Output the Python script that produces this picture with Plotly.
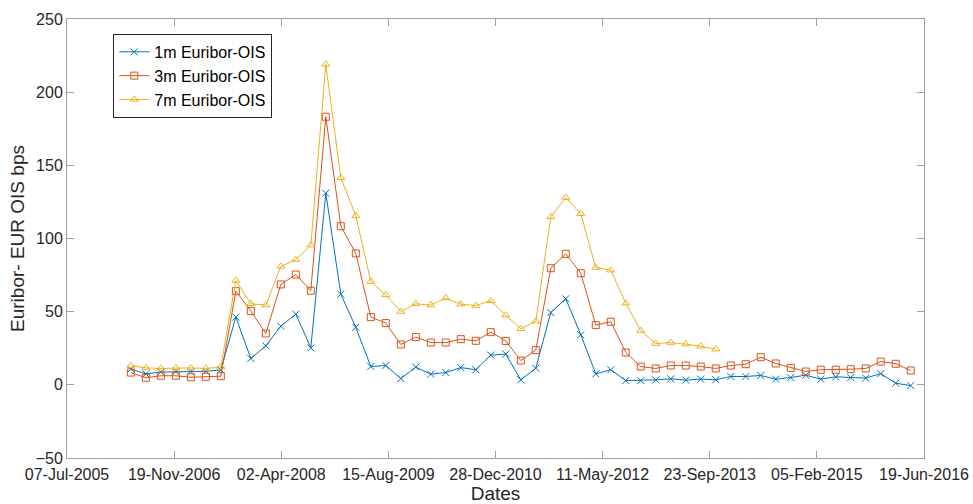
import plotly.graph_objects as go

dates = [
    "2006-05-01", "2006-07-10", "2006-09-18", "2006-11-27", "2007-02-05", "2007-04-16",
    "2007-06-25", "2007-09-03", "2007-11-12", "2008-01-21", "2008-03-31", "2008-06-09",
    "2008-08-18", "2008-10-27", "2009-01-05", "2009-03-16", "2009-05-25", "2009-08-03",
    "2009-10-12", "2009-12-21", "2010-03-01", "2010-05-10", "2010-07-19", "2010-09-27",
    "2010-12-06", "2011-02-14", "2011-04-25", "2011-07-04", "2011-09-12", "2011-11-21",
    "2012-01-30", "2012-04-09", "2012-06-18", "2012-08-27", "2012-11-05", "2013-01-14",
    "2013-03-25", "2013-06-03", "2013-08-12", "2013-10-21", "2013-12-30", "2014-03-10",
    "2014-05-19", "2014-07-28", "2014-10-06", "2014-12-15", "2015-02-23", "2015-05-04",
    "2015-07-13", "2015-09-21", "2015-11-30", "2016-02-08", "2016-04-18",
]

ois_1m = [
    10.7, 7.5, 8.7, 9.1, 9.1, 9.3, 10.2, 46.3, 18.0, 26.7, 40.1, 48.3, 25.3, 131.0,
    62.0, 39.3, 12.5, 13.2, 4.3, 12.1, 7.3, 8.4, 11.8, 10.3, 20.3, 21.0, 3.4, 11.4,
    49.4, 58.8, 34.2, 7.5, 10.3, 2.9, 2.9, 3.4, 4.1, 3.2, 3.9, 3.5, 5.7, 5.7, 6.4,
    3.9, 5.0, 6.6, 3.9, 5.5, 5.0, 4.6, 7.7, 1.1, -0.5,
]

ois_3m = [
    8.4, 4.8, 6.2, 6.2, 5.2, 5.5, 5.9, 64.0, 50.4, 35.1, 68.6, 75.4, 64.3, 183.2,
    108.4, 89.8, 46.3, 42.2, 27.6, 32.6, 28.9, 28.9, 31.2, 30.1, 36.0, 30.0, 16.6,
    23.7, 79.7, 89.5, 76.3, 40.8, 43.1, 22.1, 12.5, 11.2, 13.2, 13.2, 12.5, 11.2,
    13.2, 14.1, 18.9, 14.6, 11.6, 9.1, 10.3, 10.3, 10.7, 11.2, 15.9, 14.4, 9.8,
]

ois_7m = [
    13.0, 11.6, 11.2, 11.6, 11.6, 11.2, 12.1, 71.3, 55.4, 54.5, 80.9, 85.6, 95.5,
    219.0, 141.5, 115.5, 70.6, 61.5, 50.1, 55.4, 54.5, 59.3, 55.1, 54.2, 57.4, 47.6,
    38.3, 43.5, 114.8, 128.0, 116.9, 80.2, 78.4, 55.8, 37.1, 28.2, 28.9, 27.8, 26.4,
    24.4,
]

series_names = ["1m Euribor-OIS", "3m Euribor-OIS", "7m Euribor-OIS"]
series_colors = ["#0072BD", "#D95319", "#EDB120"]
series_symbols = ["x-thin-open", "square-open", "triangle-up-open"]

x_tick_dates = ["2005-07-07", "2006-11-19", "2008-04-02", "2009-08-15", "2010-12-28",
                "2012-05-11", "2013-09-23", "2015-02-05", "2016-06-19"]
y_ticks = [-50, 0, 50, 100, 150, 200, 250]

fig = go.Figure()
for name, vals, col, sym in zip(series_names, [ois_1m, ois_3m, ois_7m],
                                series_colors, series_symbols):
    fig.add_trace(go.Scatter(
        x=dates[:len(vals)], y=vals, name=name, mode="lines+markers",
        line=dict(color=col, width=1),
        marker=dict(symbol=sym, size=7, color=col, line=dict(color=col, width=1)),
    ))

axis_col = "#A0A0A0"
font = dict(family="Liberation Sans, Arial, sans-serif", size=16, color="#262626")

fig.update_layout(
    width=973, height=504,
    margin=dict(l=67, r=49, t=19, b=46),
    paper_bgcolor="white", plot_bgcolor="white",
    font=font,
    showlegend=True,
    legend=dict(
        x=0.054, y=0.966, xanchor="left", yanchor="top",
        bordercolor="#262626", borderwidth=1, bgcolor="white",
        font=dict(family="Liberation Sans, Arial, sans-serif", size=16, color="#000000"),
        tracegroupgap=0, itemwidth=30,
    ),
    xaxis=dict(
        type="date", automargin=False,
        range=[x_tick_dates[0], x_tick_dates[-1]],
        tickvals=x_tick_dates, tickformat="%d-%b-%Y",
        ticks="inside", ticklen=7, tickcolor=axis_col, tickwidth=1,
        ticklabelstandoff=2,
        showline=True, linecolor=axis_col, linewidth=1, mirror="ticks",
        showgrid=False, zeroline=False,
        title=dict(text="Dates", standoff=8),
        tickfont=font,
    ),
    yaxis=dict(
        automargin=False,
        range=[-50, 250], tickvals=y_ticks,
        ticks="inside", ticklen=7, tickcolor=axis_col, tickwidth=1,
        showline=True, linecolor=axis_col, linewidth=1, mirror="ticks",
        showgrid=False, zeroline=False,
        title=dict(text="Euribor- EUR OIS bps", standoff=6),
        tickfont=font,
    ),
)

fig.write_html("out.html")
